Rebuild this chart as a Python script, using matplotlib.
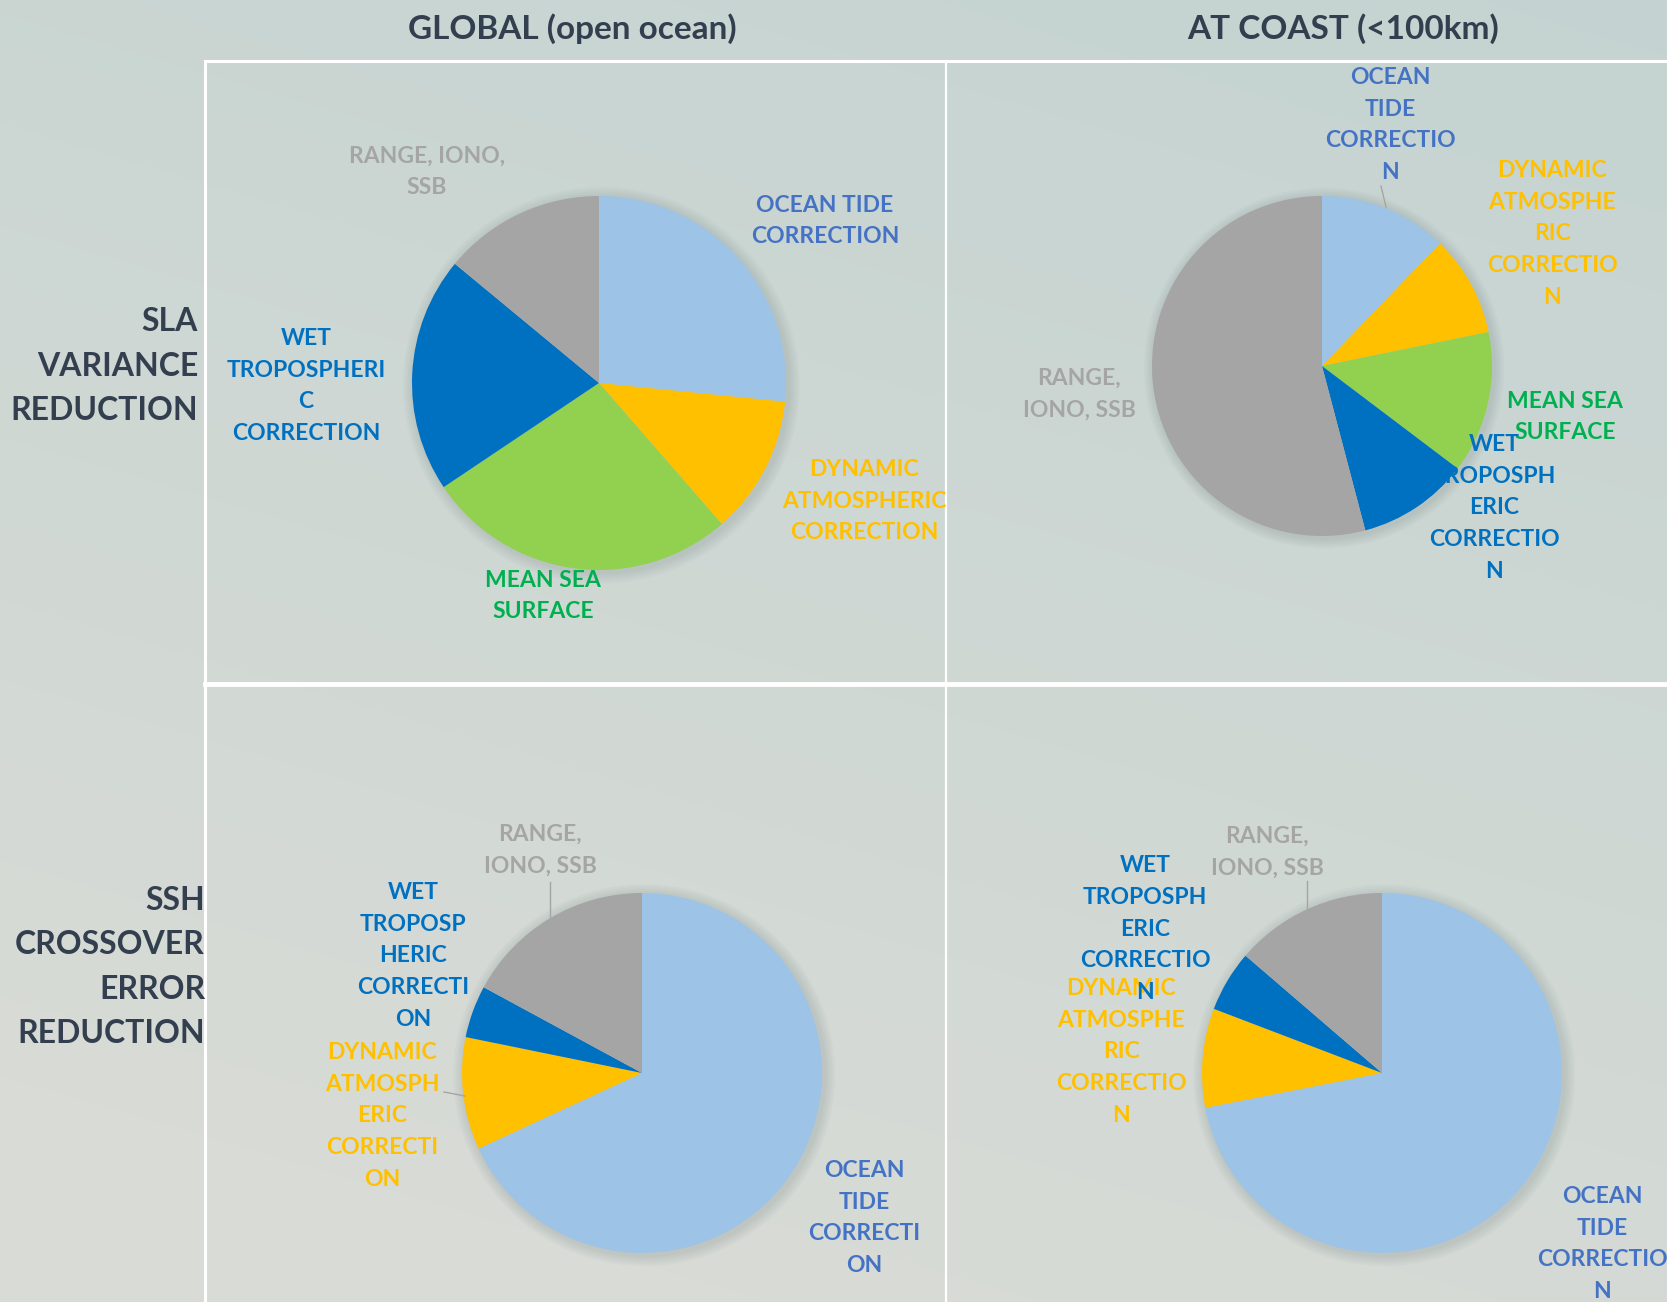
import numpy as np
import matplotlib
matplotlib.use("Agg")
import matplotlib.pyplot as plt
from matplotlib.patches import Circle

plt.rcParams['font.family'] = ['Lato', 'DejaVu Sans']
plt.rcParams['font.weight'] = 'bold'

W, H = 1667, 1302

# categories and colours
cat_colors = {
    'tide': '#9DC3E6', 'dac': '#FFC000', 'mss': '#92D050',
    'wet': '#0070C0', 'range': '#A5A5A5',
}
label_colors = {
    'tide': '#4472C4', 'dac': '#FFC000', 'mss': '#00B050',
    'wet': '#0070C0', 'range': '#A5A5A5',
}

# values (% share, clockwise from 12 o'clock)
sla_global_keys = ['tide', 'dac', 'mss', 'wet', 'range']
sla_global_vals = [26.6, 12.0, 27.0, 20.4, 14.0]
sla_global_txt = ['OCEAN TIDE\nCORRECTION', 'DYNAMIC\nATMOSPHERIC\nCORRECTION',
                  'MEAN SEA\nSURFACE', 'WET\nTROPOSPHERI\nC\nCORRECTION',
                  'RANGE, IONO,\nSSB']

sla_coast_keys = ['tide', 'dac', 'mss', 'wet', 'range']
sla_coast_vals = [12.2, 9.6, 13.5, 10.6, 54.1]
sla_coast_txt = ['OCEAN\nTIDE\nCORRECTIO\nN', 'DYNAMIC\nATMOSPHE\nRIC\nCORRECTIO\nN',
                 'MEAN SEA\nSURFACE', 'WET\nTROPOSPH\nERIC\nCORRECTIO\nN',
                 'RANGE,\nIONO, SSB']

ssh_global_keys = ['tide', 'dac', 'wet', 'range']
ssh_global_vals = [68.1, 10.1, 4.7, 17.1]
ssh_global_txt = ['OCEAN\nTIDE\nCORRECTI\nON', 'DYNAMIC\nATMOSPH\nERIC\nCORRECTI\nON',
                  'WET\nTROPOSP\nHERIC\nCORRECTI\nON', 'RANGE,\nIONO, SSB']

ssh_coast_keys = ['tide', 'dac', 'wet', 'range']
ssh_coast_vals = [71.9, 8.9, 5.5, 13.7]
ssh_coast_txt = ['OCEAN\nTIDE\nCORRECTIO\nN', 'DYNAMIC\nATMOSPHE\nRIC\nCORRECTIO\nN',
                 'WET\nTROPOSPH\nERIC\nCORRECTIO\nN', 'RANGE,\nIONO, SSB']

col_titles = ['GLOBAL (open ocean)', 'AT COAST (<100km)']
row_titles = ['SLA\nVARIANCE\nREDUCTION', 'SSH\nCROSSOVER\nERROR\nREDUCTION']

fig = plt.figure(figsize=(W / 100, H / 100), dpi=100)

# background with a soft gradient
bg = fig.add_axes([0, 0, 1, 1])
yy, xx = np.mgrid[0:1:200j, 0:1:200j]
top = np.array([0.77, 0.83, 0.82])
bot = np.array([0.85, 0.86, 0.84])
t = np.clip(yy * 0.8 + (1 - xx) * 0.3, 0, 1)[..., None]
grad = top * (1 - t) + bot * t
bg.imshow(grad, extent=[0, W, H, 0], aspect='auto', interpolation='bicubic')
bg.set_xlim(0, W)
bg.set_ylim(H, 0)
bg.axis('off')

# grid lines
bg.plot([205, W], [61, 61], color='white', lw=2.2)
bg.plot([205, W], [684, 684], color='white', lw=3.5)
bg.plot([205, 205], [61, H], color='white', lw=2.2)
bg.plot([946, 946], [61, H], color='white', lw=1.6)

title_color = '#333F4F'
bg.text(572, 29, col_titles[0], ha='center', va='center', fontsize=24, color=title_color)
bg.text(1343, 29, col_titles[1], ha='center', va='center', fontsize=24, color=title_color)
bg.text(198, 366, row_titles[0], ha='right', va='center', fontsize=23,
        color=title_color, linespacing=1.65, multialignment='right')
bg.text(205, 967, row_titles[1], ha='right', va='center', fontsize=23,
        color=title_color, linespacing=1.65, multialignment='right')


def draw_pie(cx, cy, r, keys, vals, texts, label_pos, leaders=()):
    ax = fig.add_axes([(cx - 1.25 * r) / W, 1 - (cy + 1.25 * r) / H,
                       2.5 * r / W, 2.5 * r / H])
    # soft shadow
    for k in range(5):
        ax.add_patch(Circle((0.012, -0.012), 1.0 + 0.012 * (k + 1),
                            color='#7a8a8a', alpha=0.05, lw=0, zorder=0))
    ax.pie(vals, colors=[cat_colors[k] for k in keys], startangle=90,
           counterclock=False, radius=1, frame=False,
           wedgeprops=dict(linewidth=0))
    for key, txt, (lx, ly) in zip(keys, texts, label_pos):
        ax.text((lx - cx) / r, -(ly - cy) / r, txt, ha='center', va='center',
                multialignment='center', fontsize=16.5, color=label_colors[key],
                linespacing=1.62, zorder=5)
    for (x0, y0), (x1, y1) in leaders:
        ax.plot([(x0 - cx) / r, (x1 - cx) / r], [-(y0 - cy) / r, -(y1 - cy) / r],
                color='#A5A5A5', lw=1, zorder=4)
    ax.set_xlim(-1.25, 1.25)
    ax.set_ylim(-1.25, 1.25)
    return ax


draw_pie(599, 383, 187, sla_global_keys, sla_global_vals, sla_global_txt,
         [(825, 221), (864, 501), (543, 596), (306, 386), (427, 172)])

draw_pie(1322, 366, 170, sla_coast_keys, sla_coast_vals, sla_coast_txt,
         [(1390, 125), (1552, 234), (1565, 417), (1494, 508), (1079, 394)],
         leaders=[((1381, 186), (1386, 207))])

draw_pie(642, 1073, 180, ssh_global_keys, ssh_global_vals, ssh_global_txt,
         [(864, 1218), (382, 1116), (413, 956), (540, 850)],
         leaders=[((550, 882), (550, 917)), ((444, 1092), (465, 1096))])

draw_pie(1382, 1073, 180, ssh_coast_keys, ssh_coast_vals, ssh_coast_txt,
         [(1602, 1244), (1121, 1052), (1145, 929), (1267, 852)],
         leaders=[((1307, 881), (1307, 912))])

fig.savefig('out.png', dpi=100)
